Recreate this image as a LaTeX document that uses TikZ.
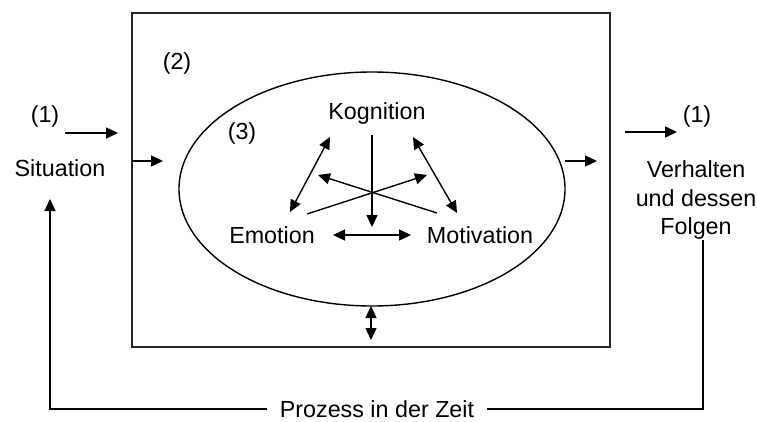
\documentclass[tikz,border=0pt]{standalone}
\usepackage{fontspec}
\setmainfont{Liberation Sans}
\usetikzlibrary{arrows.meta,shapes.geometric}
\begin{document}
\begin{tikzpicture}[x=1pt,y=-1pt,
  line width=1.4pt,
  txt/.style={anchor=base,inner sep=0pt,font=\fontsize{23.3}{28}\selectfont},
  arr/.style={-{Triangle[length=12pt,width=11pt]}},
  darr/.style={{Triangle[length=12pt,width=11pt]}-{Triangle[length=12pt,width=11pt]}},
  frame/.style={draw,line width=1.6pt,color=black!85}]
\useasboundingbox (0,0) rectangle (757,422);

% outer frame (2) and ellipse (3)
\node[frame,rectangle,minimum width=478pt,minimum height=334pt,inner sep=0pt] (box) at (371,180) {};
\node[draw,ellipse,minimum width=386pt,minimum height=234pt,inner sep=0pt] (ell) at (372,189) {};

% labels
\node[txt] (n2) at (177,70) {(2)};
\node[txt] (n3) at (242,140) {(3)};
\node[txt] (kog) at (377,120) {Kognition};
\node[txt] (emo) at (272,243) {Emotion};
\node[txt] (mot) at (480,243) {Motivation};
\node[txt] (n1l) at (45,123) {(1)};
\node[txt] (sit) at (60,177) {Situation};
\node[txt] (n1r) at (697,123) {(1)};
\node[txt] (verh) at (696,178) {Verhalten};
\node[txt] (und) at (696,206) {und dessen};
\node[txt] (folg) at (696,234) {Folgen};
\node[txt,fill=white,inner xsep=12pt] (proz) at (377,417) {Prozess in der Zeit};

% interior arrows among the three components
\coordinate (kt) at (372,135);
\coordinate (kb) at (372,227);
\draw[arr] (kt) -- (kb);
\coordinate (la) at (330,137);
\coordinate (lb) at (290,212);
\draw[darr] (la) -- (lb);
\coordinate (ra) at (413,137);
\coordinate (rb) at (457,213);
\draw[darr] (ra) -- (rb);
\coordinate (c1a) at (307,214);
\coordinate (c1b) at (427,175);
\draw[arr] (c1a) -- (c1b);
\coordinate (c2a) at (437,213);
\coordinate (c2b) at (318,175);
\draw[arr] (c2a) -- (c2b);
\coordinate (ha) at (333,235);
\coordinate (hb) at (411,235);
\draw[darr] (ha) -- (hb);

% ellipse to frame
\coordinate (bt) at (371,306);
\coordinate (bb) at (371,340);
\draw[darr] (bt) -- (bb);

% input side
\coordinate (ia) at (65,133);
\coordinate (ib) at (118,133);
\draw[arr] (ia) -- (ib);
\coordinate (ea) at (132,161);
\coordinate (eb) at (163,161);
\draw[arr] (ea) -- (eb);

% output side
\coordinate (oa) at (565,161);
\coordinate (ob) at (597,161);
\draw[arr] (oa) -- (ob);
\coordinate (pa) at (625,132);
\coordinate (pb) at (677,132);
\draw[arr] (pa) -- (pb);

% feedback over time
\coordinate (ft) at (703,240);
\coordinate (br) at (703,409);
\coordinate (bl) at (50,409);
\coordinate (st) at (50,199);
\draw (ft) -- (br) -- (proz.east |- br);
\draw[arr] (proz.west |- bl) -- (bl) -- (st);
\end{tikzpicture}
\end{document}
